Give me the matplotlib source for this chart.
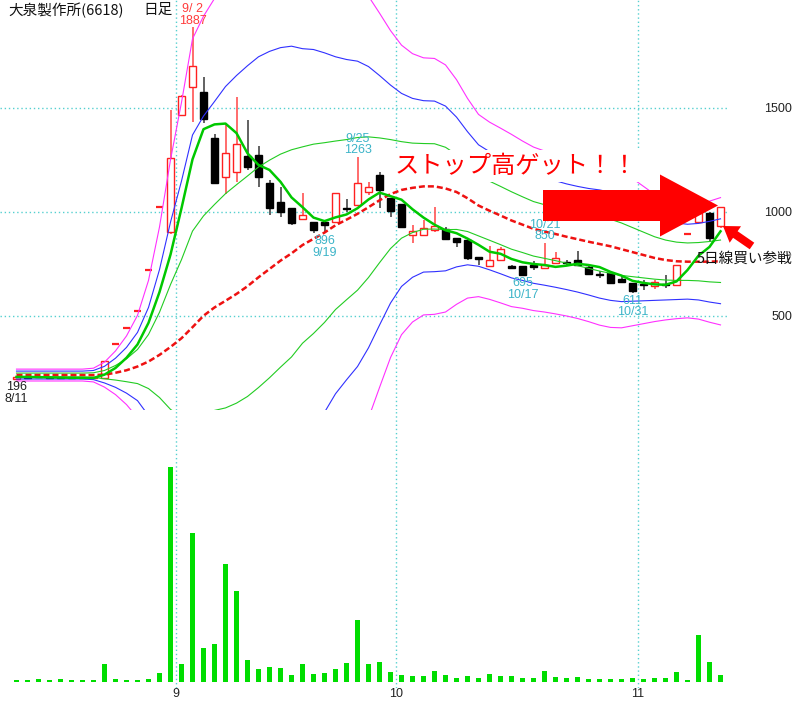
import matplotlib
matplotlib.use('Agg')
import matplotlib.pyplot as plt
from matplotlib.patches import FancyArrow
from matplotlib.transforms import IdentityTransform
import numpy as np

plt.rcParams['font.family'] = ['Noto Sans CJK JP', 'DejaVu Sans']
NARROW = ['Liberation Sans', 'DejaVu Sans']

# trading days (2014)
dates = ['8/11', '8/12', '8/13', '8/14', '8/15', '8/18', '8/19', '8/20', '8/21', '8/22',
         '8/25', '8/26', '8/27', '8/28', '8/29',
         '9/1', '9/2', '9/3', '9/4', '9/5', '9/8', '9/9', '9/10', '9/11', '9/12',
         '9/16', '9/17', '9/18', '9/19', '9/22', '9/24', '9/25', '9/26', '9/29', '9/30',
         '10/1', '10/2', '10/3', '10/6', '10/7', '10/8', '10/9', '10/10', '10/14', '10/15',
         '10/16', '10/17', '10/20', '10/21', '10/22', '10/23', '10/24', '10/27', '10/28',
         '10/29', '10/30', '10/31',
         '11/4', '11/5', '11/6', '11/7', '11/10', '11/11', '11/12', '11/13']

opens = [197, 206, 205, 204, 203, 202, 202, 201, 203, 362, 442, 522, 722, 1022, 901,
         1465, 1600, 1577, 1354, 1167, 1190, 1268, 1272, 1140, 1048, 1019, 963, 950, 952, 952,
         1020, 1032, 1093, 1176, 1068, 1037, 888, 888, 912, 917, 872, 864, 784, 739, 768,
         740, 740, 744, 728, 752, 757, 768, 736, 698, 707, 676, 657, 651, 643, 650,
         648, 894, 952, 994, 931]
highs = [205, 208, 207, 206, 206, 205, 204, 204, 282, 362, 442, 522, 722, 1022, 1489,
         1560, 1887, 1646, 1374, 1417, 1551, 1441, 1316, 1152, 1117, 1019, 1088, 950, 960, 1088,
         1061, 1263, 1144, 1190, 1068, 1037, 936, 960, 1024, 925, 872, 872, 784, 835, 832,
         745, 740, 765, 850, 808, 770, 813, 740, 716, 707, 692, 657, 672, 672, 696,
         744, 894, 1044, 1000, 1023]
lows = [196, 201, 202, 201, 200, 200, 199, 199, 202, 362, 442, 522, 722, 1022, 895,
        1460, 1433, 1425, 1138, 1085, 1143, 1200, 1117, 984, 976, 936, 963, 899, 896, 945,
        1000, 1032, 1080, 1018, 974, 926, 849, 888, 905, 867, 829, 770, 744, 739, 768,
        725, 695, 720, 725, 752, 745, 744, 700, 680, 655, 660, 611, 624, 630, 633,
        648, 894, 945, 853, 920]
closes = [204, 203, 204, 202, 201, 201, 200, 202, 282, 362, 442, 522, 722, 1022, 1260,
          1557, 1700, 1444, 1138, 1282, 1325, 1215, 1166, 1019, 997, 947, 983, 912, 936, 1088,
          1014, 1136, 1120, 1104, 1003, 926, 907, 921, 933, 867, 856, 776, 771, 768, 821,
          728, 696, 733, 744, 776, 755, 744, 700, 696, 659, 664, 619, 650, 664, 648,
          744, 894, 994, 873, 1023]
volume = [1.7, 1.7, 2.7, 1.7, 2.7, 1.7, 1.7, 1.7, 18.3, 2.7, 1.7, 1.7, 2.7, 9.3, 215,
          18.3, 149, 34, 38, 118, 91, 21.7, 12.7, 15, 14.3, 6.7, 18.3, 7.7, 9.3, 13.3,
          19.3, 61.7, 17.7, 20.3, 10, 6.7, 5.7, 5.7, 11, 6.7, 4, 5.7, 4, 7.7, 6,
          6, 4, 4, 11, 5, 4, 5, 3, 3, 3, 3, 4, 3, 4.3, 4.3,
          10, 2.3, 47.3, 20.3, 6.7]

# 5-day moving average (thick green)
ma5 = [206, 206, 205, 204, 203, 202, 202, 201, 217, 249, 298, 362, 466, 614, 794,
       1017, 1252, 1397, 1420, 1424, 1378, 1281, 1225, 1201, 1144, 1069, 1022, 972, 955, 973,
       987, 1017, 1059, 1092, 1075, 1058, 1012, 972, 938, 911, 897, 871, 841, 808, 798,
       773, 757, 749, 744, 735, 741, 750, 744, 734, 711, 693, 668, 658, 651, 649,
       665, 720, 789, 831, 906]
# 25-day moving average (red dashed) and its standard deviation (bands)
ma25 = [215, 215, 215, 215, 215, 215, 215, 215, 217, 226, 238, 256, 280, 312, 350,
        392, 445, 500, 540, 572, 605, 642, 685, 725, 765, 800, 840, 870, 900, 935,
        962, 990, 1022, 1055, 1085, 1105, 1115, 1122, 1122, 1112, 1095, 1065, 1030, 1005, 982,
        958, 938, 918, 905, 893, 880, 868, 856, 845, 834, 820, 806, 792, 778, 768,
        762, 760, 760, 760, 762]
sigma = [9.5, 9.5, 9.5, 9.5, 9.5, 9.5, 9.5, 11, 20, 35, 55, 82, 130, 205, 300,
         378, 462, 480, 495, 515, 525, 530, 530, 523, 512, 498, 472, 455, 432, 405,
         385, 367, 338, 300, 262, 232, 215, 206, 205, 198, 180, 160, 146, 142, 140,
         138, 134, 131, 129, 128, 127, 127, 128, 130, 130, 126, 118, 110, 102, 96,
         92, 90, 92, 97, 102]

# marked highs / lows
mark_days = ['8/11', '9/2', '9/19', '9/25', '10/17', '10/21', '10/31']
mark_kind = ['low', 'high', 'low', 'high', 'low', 'high', 'low']
mark_color = ['#222222', '#ff3c3c', '#3cb4c8', '#3cb4c8', '#3cb4c8', '#3cb4c8', '#3cb4c8']

RED = '#ff2020'
GRID = '#55d0d0'
W, H = 800, 705

n = len(dates)
x = np.arange(n)
o, hi, lo, c = (np.array(v, dtype=float) for v in (opens, highs, lows, closes))
m25 = np.array(ma25, dtype=float)
sd = np.array(sigma, dtype=float)

fig = plt.figure(figsize=(W / 100, H / 100), dpi=100)
ax = fig.add_axes([0, 1 - 410 / H, 727 / W, 410 / H])
axv = fig.add_axes([0, 1 - 688 / H, 727 / W, 278 / H])
for a in (ax, axv):
    a.set_xlim(-1.5, 64.59)
    for s in a.spines.values():
        s.set_visible(False)
    a.tick_params(length=0)
    a.set_xticks([])

ax.set_ylim(47, 2018)
axv.set_ylim(-6, 272)
axv.set_yticks([])

# month boundaries
months = [d.split('/')[0] for d in dates]
bounds = [i - 0.5 for i in range(1, n) if months[i] != months[i - 1]]
blabels = [months[i] for i in range(1, n) if months[i] != months[i - 1]]
for b in bounds:
    ax.axvline(b, color=GRID, lw=1, ls=(0, (1, 2)), zorder=1)
    axv.axvline(b, color=GRID, lw=1, ls=(0, (1, 2)), zorder=1)
axv.set_xticks(bounds)
axv.set_xticklabels(blabels, fontsize=9, color='#222222', family=NARROW)
axv.tick_params(axis='x', pad=0)

for lv in (500, 1000, 1500):
    ax.axhline(lv, color=GRID, lw=1, ls=(0, (1, 2)), zorder=1)
ax.yaxis.tick_right()
ax.set_yticks([500, 1000, 1500])
ax.set_yticklabels(['500', '1000', '1500'], fontsize=9, family=NARROW, color='#222222')
for t in ax.get_yticklabels():
    t.set_horizontalalignment('right')
ax.tick_params(axis='y', pad=47)

# candles
up = c >= o
for i in x:
    wick = '#ff6060' if up[i] else '#555555'
    if hi[i] == lo[i]:
        ax.hlines(c[i], i - 0.3, i + 0.3, color=RED, lw=1.6, zorder=3)
        continue
    ax.vlines(i, lo[i], hi[i], color=wick, lw=1.3, zorder=2)
    bot = min(o[i], c[i])
    ht = max(abs(c[i] - o[i]), 3)
    ax.bar(i, ht, 0.58, bot, facecolor='white' if up[i] else 'black',
           edgecolor=RED if up[i] else 'black', lw=1, zorder=3)

# bands and averages
for k, col in ((3, '#ff30ff'), (2, '#3030ff'), (1, '#22cc22')):
    ax.plot(x, m25 + k * sd, color=col, lw=0.8, zorder=4)
    ax.plot(x, m25 - k * sd, color=col, lw=0.8, zorder=4)
ax.plot(x, m25, color='#ee1111', lw=1.8, ls=(0, (2.4, 1.2)), zorder=5)
ax.plot(x, ma5, color='#00c800', lw=1.8, zorder=5)

# high / low marks
for d, kind, col in zip(mark_days, mark_kind, mark_color):
    i = dates.index(d)
    m, dd = d.split('/')
    dtxt = f'{m}/{int(dd):>2}'
    if kind == 'high':
        ax.annotate(f'{dtxt}\n{int(hi[i])}', (i, hi[i]), xytext=(0, 0.5),
                    textcoords='offset points', ha='center', va='bottom',
                    fontsize=9, color=col, family=NARROW, linespacing=0.95, zorder=6)
    else:
        ax.annotate(f'{int(lo[i])}\n{dtxt}', (i, lo[i]), xytext=(0, -1.5),
                    textcoords='offset points', ha='center', va='top',
                    fontsize=9, color=col, family=NARROW, linespacing=0.95, zorder=6)

# volume
axv.bar(x, volume, 0.45, color='#00dd00', zorder=2)

# titles and comments
fig.text(8 / W, 1 - 10 / H, '大泉製作所(6618)', fontsize=10.5, va='center', ha='left', color='#111111')
fig.text(143 / W, 1 - 10 / H, '日足', fontsize=10.5, va='center', ha='left', color='#111111')
fig.text(395 / W, 1 - 166 / H, 'ストップ高ゲット！！', fontsize=17.5, color='#ff0000',
         va='center', ha='left', zorder=6,
         bbox=dict(facecolor='white', edgecolor='none', pad=2))
fig.text(697 / W, 1 - 259 / H, '5日線買い参戦', fontsize=10.5, color='#111111',
         va='center', ha='left', zorder=6)

big = FancyArrow(543, H - 205.5, 175, 0, width=31, head_width=62, head_length=58,
                 length_includes_head=True, color='#ff0000', lw=0,
                 transform=IdentityTransform(), zorder=8)
fig.add_artist(big)
small = FancyArrow(752, H - 246, -29, 20, width=8, head_width=20, head_length=15,
                   length_includes_head=True, color='#ff0000', lw=0,
                   transform=IdentityTransform(), zorder=8)
fig.add_artist(small)

fig.savefig('out.png', dpi=100, facecolor='white')
